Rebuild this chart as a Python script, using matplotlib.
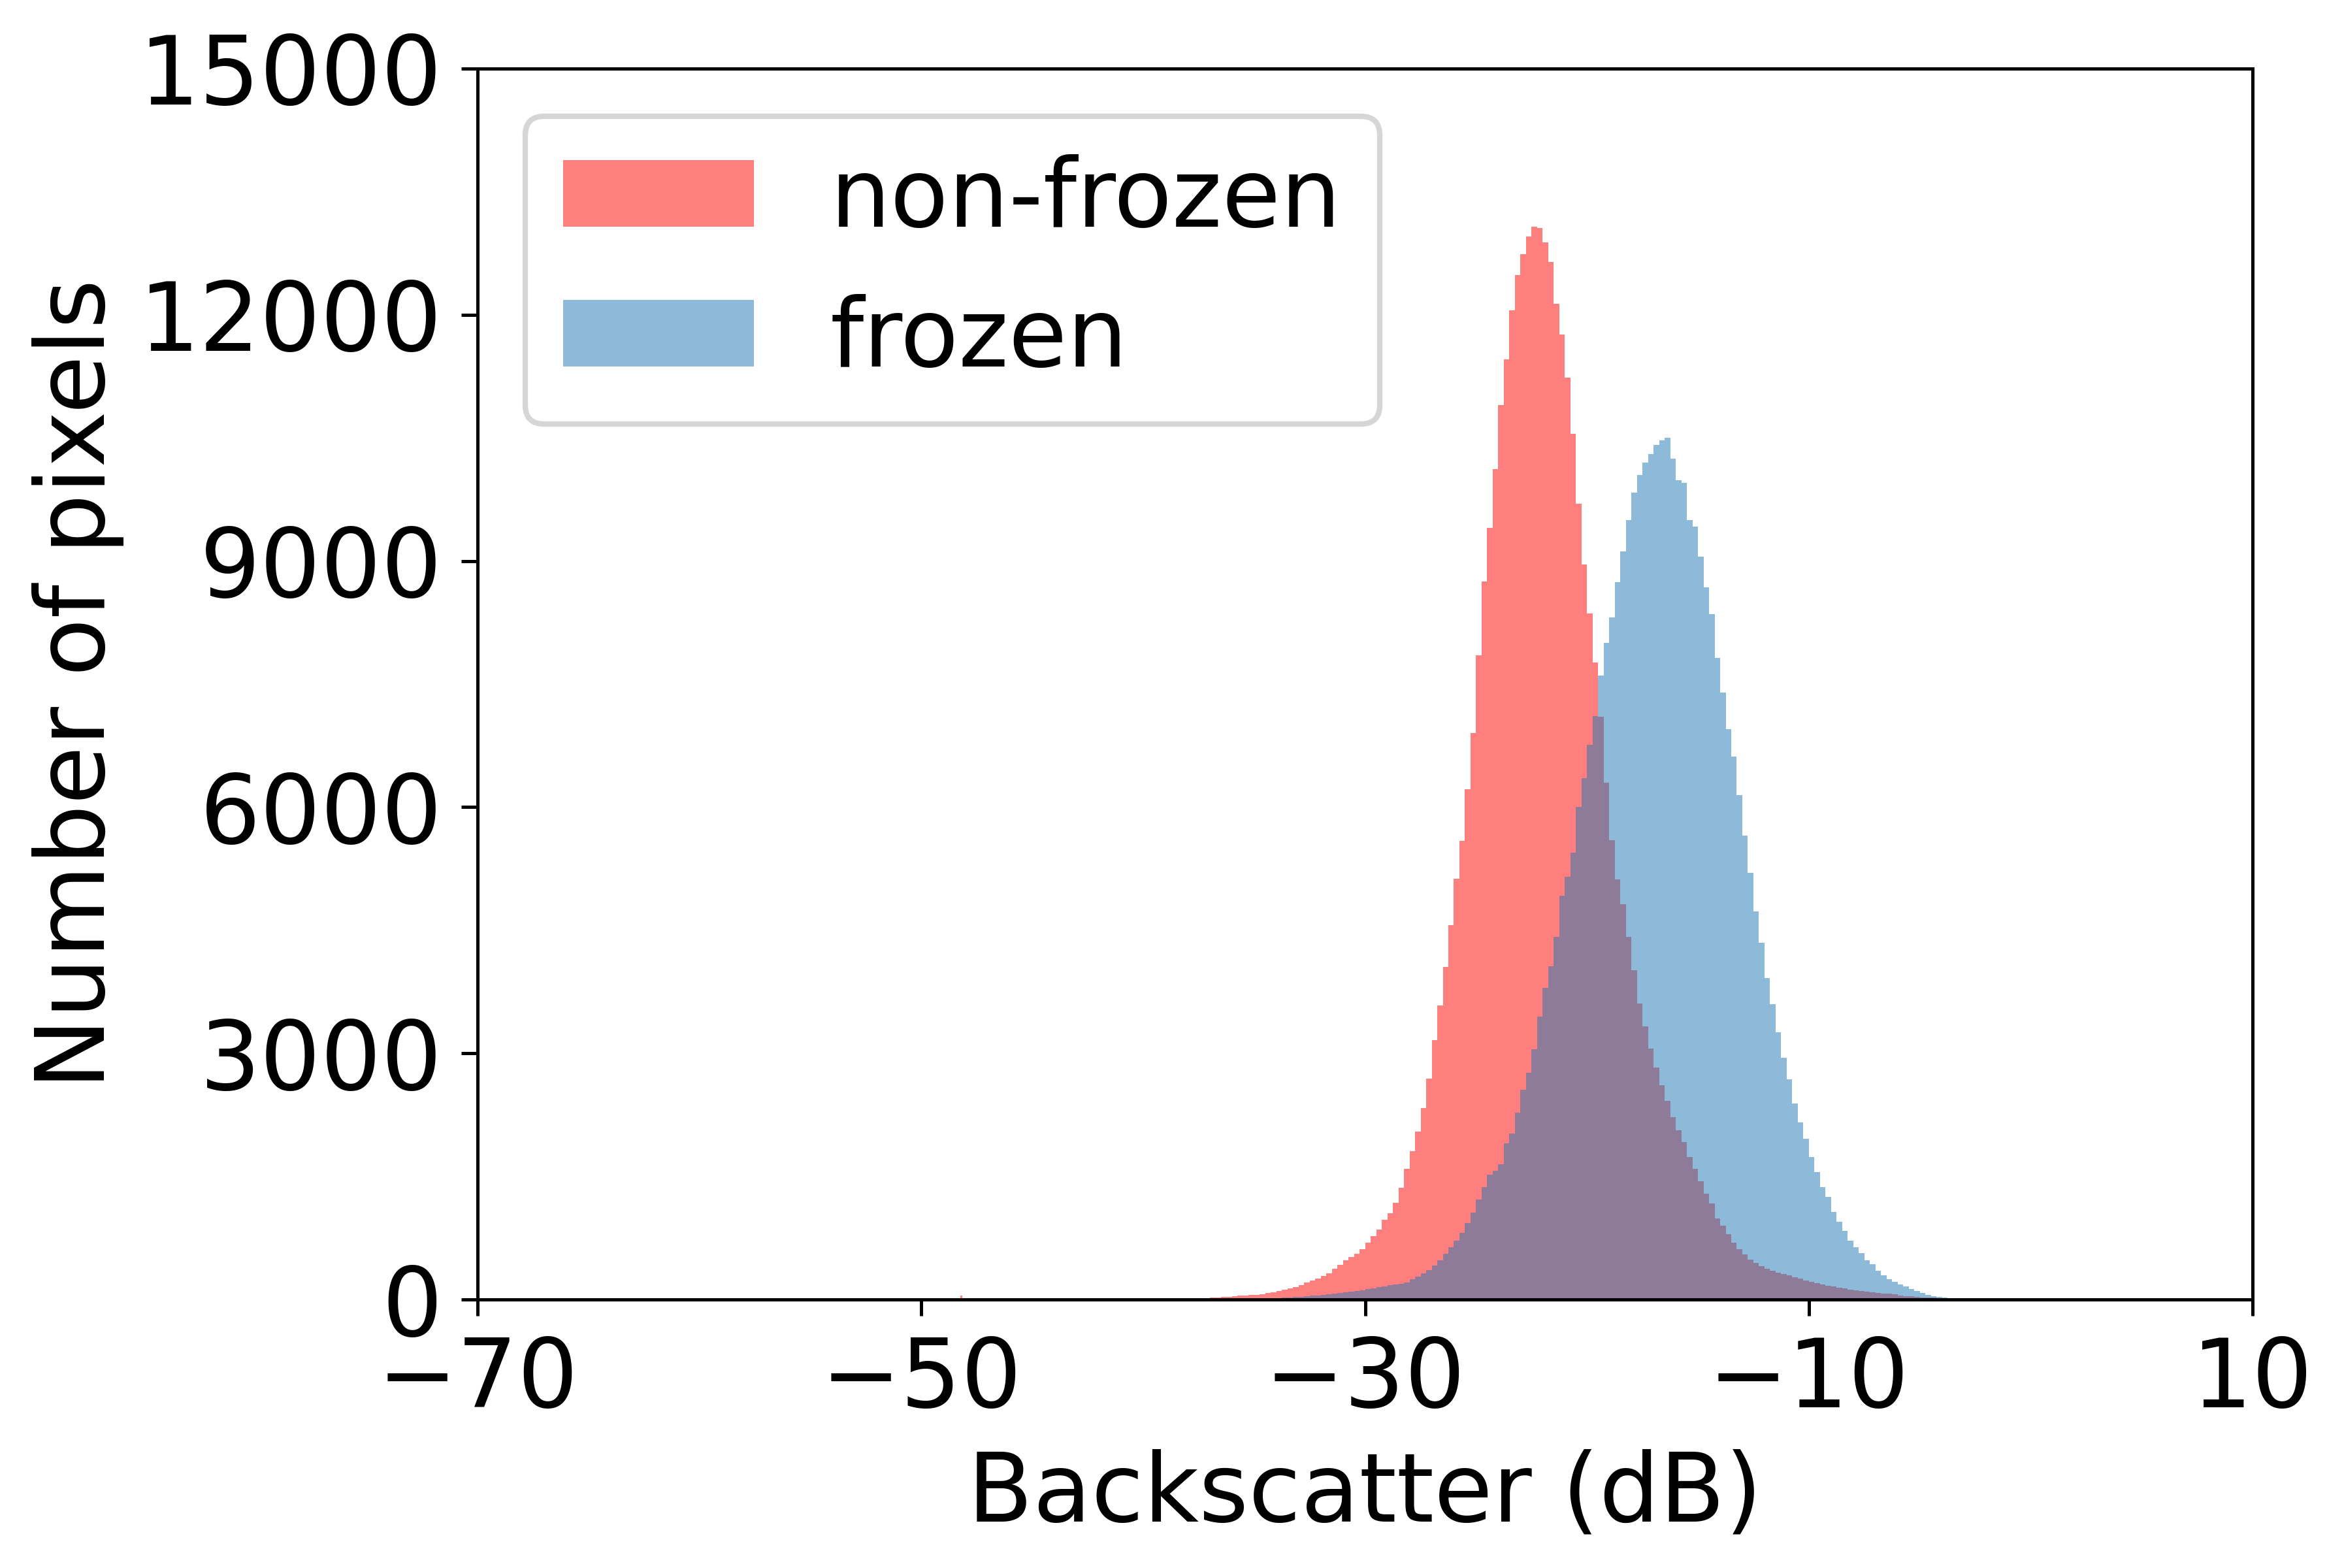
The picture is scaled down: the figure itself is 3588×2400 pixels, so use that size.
import numpy as np
import matplotlib
matplotlib.use("Agg")
import matplotlib.pyplot as plt

# Histogram counts, 0.25 dB bins starting at -40 dB
bin_start = -40.0
bin_width = 0.25

nonfrozen_counts = [
    0, 1, 1, 2, 3, 4, 5, 7, 9, 12, 14, 17, 21, 26, 32, 36, 41, 46, 51, 55,
    60, 66, 78, 92, 105, 119, 136, 155, 180, 208, 230, 253, 285, 318, 375, 425,
    476, 515, 555, 615, 690, 775, 855, 970, 1050, 1180, 1360, 1590, 1810, 2045,
    2330, 2690, 3160, 3580, 4050, 4560, 5130, 5590, 6220, 6900, 7850, 8750,
    9400, 10120, 10900, 11460, 12050, 12480, 12740, 12950, 13070, 13060, 12880,
    12640, 12130, 11760, 11230, 10550, 9700, 8960, 8360, 7760, 7100, 6300, 5600,
    5120, 4820, 4420, 4010, 3610, 3330, 3060, 2830, 2610, 2420, 2220, 2060,
    1920, 1740, 1590, 1440, 1290, 1170, 990, 900, 800, 690, 615, 552, 490, 445,
    408, 378, 350, 328, 310, 292, 274, 255, 232, 215, 198, 186, 168, 158, 144,
    134, 124, 116, 107, 98, 88, 80, 76, 70, 61, 52, 43, 38, 32, 28, 24, 22, 20,
    17, 13, 9, 6,
]

frozen_counts = [
    0, 0, 0, 0, 0, 0, 1, 1, 1, 2, 2, 3, 4, 5, 6, 7, 8, 9, 10, 11,
    12, 13, 15, 17, 19, 22, 26, 30, 35, 40, 46, 52, 59, 66, 73, 80,
    87, 94, 105, 116, 127, 139, 150, 162, 175, 186, 195, 210, 245, 282,
    318, 360, 415, 480, 560, 640, 720, 815, 930, 1060, 1220, 1370,
    1520, 1570, 1650, 1900, 2020, 2280, 2560, 2760, 3050, 3450, 3800,
    4060, 4420, 4920, 5150, 5450, 6000, 6350, 6760, 7110, 7600, 8000, 8310,
    8740, 9120, 9500, 9830, 10050, 10200, 10300, 10410, 10470, 10500, 10250, 9980,
    9950, 9500, 9420, 9050, 8680, 8350, 7820, 7400, 6950, 6620, 6150, 5650, 5200,
    4730, 4350, 3920, 3600, 3260, 2950, 2680, 2390, 2160, 1960, 1740, 1550, 1370,
    1250, 1065, 950, 835, 720, 635, 570, 478, 430, 355, 295, 248, 212, 185, 157,
    130, 103, 78, 55, 42, 30, 21, 13, 6, 2,
]

# lone non-frozen spike far out in the left tail
outlier_db = [-48.2]
outlier_counts = [45]

x_ticks = [-70, -50, -30, -10, 10]
y_ticks = [0, 3000, 6000, 9000, 12000, 15000]

plt.rcParams['font.family'] = ['DejaVu Sans']
plt.rcParams['font.size'] = 17.5

fig = plt.figure(figsize=(5.98, 4.0), dpi=600)
ax = fig.add_subplot(111)
fig.subplots_adjust(left=0.2038, right=0.961, bottom=0.1712, top=0.9563)

edges = bin_start + bin_width * np.arange(len(nonfrozen_counts) + 1)
centers = edges[:-1] + bin_width / 2

ax.hist(centers, bins=edges, weights=nonfrozen_counts, color='red', alpha=0.5,
        label='non-frozen')
ax.hist(outlier_db, bins=[outlier_db[0] - 0.04, outlier_db[0] + 0.04],
        weights=outlier_counts, color='red', alpha=0.5)
ax.hist(centers, bins=edges, weights=frozen_counts, color='tab:blue', alpha=0.5,
        label='frozen')

ax.set_xlim(-70, 10)
ax.set_ylim(0, 15000)
ax.set_xticks(x_ticks)
ax.set_yticks(y_ticks)
ax.set_xlabel('Backscatter (dB)')
ax.set_ylabel('Number of pixels', labelpad=2.7)
for sp in ax.spines.values():
    sp.set_linewidth(0.6)
ax.tick_params(length=3, width=0.6)

ax.legend(loc='upper left')

fig.savefig('out.png', dpi=600)
